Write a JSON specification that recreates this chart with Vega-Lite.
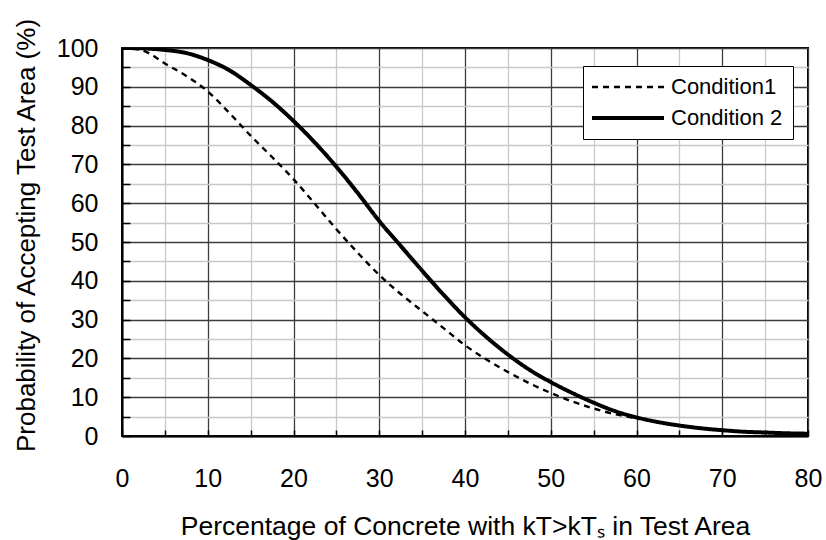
{
  "$schema": "https://vega.github.io/schema/vega-lite/v6.json",
  "width": 686,
  "height": 388,
  "autosize": "none",
  "padding": {"left": 122, "top": 48, "right": 18, "bottom": 104},
  "background": "white",
  "config": {
    "font": "Liberation Sans",
    "view": {"stroke": "black", "strokeWidth": 2},
    "axis": {
      "domainColor": "black",
      "domainWidth": 2,
      "tickColor": "black",
      "tickWidth": 1.5,
      "labelFontSize": 25,
      "labelColor": "black",
      "titleFontSize": 26,
      "titleFontWeight": "normal",
      "titleColor": "black",
      "grid": true,
      "gridWidth": 1.3,
      "gridOpacity": 1,
      "gridColor": {"condition": {"test": "datum.value % 10 === 0", "value": "#3c3c3c"}, "value": "#c8c8c8"}
    }
  },
  "data": {
    "values": [
      {"series": "Condition1", "x": 0, "y": 100},
      {"series": "Condition1", "x": 1, "y": 99.9},
      {"series": "Condition1", "x": 2, "y": 99.6},
      {"series": "Condition1", "x": 3, "y": 98.8},
      {"series": "Condition1", "x": 5, "y": 96},
      {"series": "Condition1", "x": 7.5, "y": 92.8},
      {"series": "Condition1", "x": 10, "y": 88.8},
      {"series": "Condition1", "x": 12.5, "y": 83.3},
      {"series": "Condition1", "x": 15, "y": 77.4},
      {"series": "Condition1", "x": 17.5, "y": 71.9},
      {"series": "Condition1", "x": 20, "y": 66.2},
      {"series": "Condition1", "x": 22.5, "y": 59.8},
      {"series": "Condition1", "x": 25, "y": 53.3},
      {"series": "Condition1", "x": 27.5, "y": 47.2},
      {"series": "Condition1", "x": 30, "y": 41.5},
      {"series": "Condition1", "x": 32.5, "y": 36.6},
      {"series": "Condition1", "x": 35, "y": 32.2},
      {"series": "Condition1", "x": 37.5, "y": 27.8},
      {"series": "Condition1", "x": 40, "y": 23.4},
      {"series": "Condition1", "x": 42.5, "y": 19.7},
      {"series": "Condition1", "x": 45, "y": 16.5},
      {"series": "Condition1", "x": 47.5, "y": 13.6},
      {"series": "Condition1", "x": 50, "y": 11.1},
      {"series": "Condition1", "x": 52.5, "y": 8.9},
      {"series": "Condition1", "x": 55, "y": 7.1},
      {"series": "Condition1", "x": 57.5, "y": 5.6},
      {"series": "Condition1", "x": 60, "y": 4.6},
      {"series": "Condition 2", "x": 0, "y": 100},
      {"series": "Condition 2", "x": 2.5, "y": 99.9},
      {"series": "Condition 2", "x": 5, "y": 99.5},
      {"series": "Condition 2", "x": 7.5, "y": 98.7},
      {"series": "Condition 2", "x": 10, "y": 96.9},
      {"series": "Condition 2", "x": 12.5, "y": 94.3},
      {"series": "Condition 2", "x": 15, "y": 90.5},
      {"series": "Condition 2", "x": 17.5, "y": 86.2},
      {"series": "Condition 2", "x": 20, "y": 81.2},
      {"series": "Condition 2", "x": 22.5, "y": 75.6},
      {"series": "Condition 2", "x": 25, "y": 69.4},
      {"series": "Condition 2", "x": 27.5, "y": 62.6},
      {"series": "Condition 2", "x": 30, "y": 55.4},
      {"series": "Condition 2", "x": 32.5, "y": 49},
      {"series": "Condition 2", "x": 35, "y": 42.6},
      {"series": "Condition 2", "x": 37.5, "y": 36.4},
      {"series": "Condition 2", "x": 40, "y": 30.6},
      {"series": "Condition 2", "x": 42.5, "y": 25.5},
      {"series": "Condition 2", "x": 45, "y": 21.0},
      {"series": "Condition 2", "x": 47.5, "y": 17.1},
      {"series": "Condition 2", "x": 50, "y": 13.9},
      {"series": "Condition 2", "x": 52.5, "y": 11.1},
      {"series": "Condition 2", "x": 55, "y": 8.6},
      {"series": "Condition 2", "x": 57.5, "y": 6.4},
      {"series": "Condition 2", "x": 60, "y": 4.8},
      {"series": "Condition 2", "x": 62.5, "y": 3.6},
      {"series": "Condition 2", "x": 65, "y": 2.7},
      {"series": "Condition 2", "x": 67.5, "y": 2.0},
      {"series": "Condition 2", "x": 70, "y": 1.5},
      {"series": "Condition 2", "x": 72.5, "y": 1.1},
      {"series": "Condition 2", "x": 75, "y": 0.9},
      {"series": "Condition 2", "x": 77.5, "y": 0.7},
      {"series": "Condition 2", "x": 80, "y": 0.6}
    ]
  },
  "encoding": {
    "x": {
      "field": "x",
      "type": "quantitative",
      "scale": {"domain": [0, 80], "nice": false},
      "axis": {
        "values": [0, 5, 10, 15, 20, 25, 30, 35, 40, 45, 50, 55, 60, 65, 70, 75, 80],
        "labelExpr": "datum.value % 10 === 0 ? datum.label : ''",
        "tickSize": -6,
        "labelPadding": 36,
        "labelFlush": false,
        "title": "Percentage of Concrete with kT>kTₛ in Test Area",
        "titleFontSize": 26.5,
        "titleBaseline": "alphabetic",
        "titleY": 98
      }
    },
    "y": {
      "field": "y",
      "type": "quantitative",
      "scale": {"domain": [0, 100], "nice": false},
      "axis": {
        "values": [0, 5, 10, 15, 20, 25, 30, 35, 40, 45, 50, 55, 60, 65, 70, 75, 80, 85, 90, 95, 100],
        "labelExpr": "datum.value % 10 === 0 ? datum.label : ''",
        "tickSize": -8,
        "labelPadding": 32,
        "labelFlush": false,
        "title": "Probability of Accepting Test Area (%)",
        "titleBaseline": "alphabetic",
        "titleX": -88,
        "titleY": 187
      }
    },
    "strokeDash": {
      "field": "series",
      "type": "nominal",
      "scale": {"domain": ["Condition1", "Condition 2"], "range": [[6, 5], [1, 0]]},
      "legend": {
        "orient": "none",
        "legendX": 461,
        "legendY": 18,
        "title": null,
        "symbolType": "M-1.333,0H6.667",
        "symbolSize": 324,
        "symbolStrokeColor": "black",
        "labelFontSize": 22,
        "labelColor": "black",
        "labelOffset": 56,
        "padding": 10,
        "rowPadding": 9,
        "strokeColor": "black",
        "fillColor": "white"
      }
    },
    "strokeWidth": {
      "field": "series",
      "type": "nominal",
      "scale": {"domain": ["Condition1", "Condition 2"], "range": [2.4, 4]},
      "legend": {
        "orient": "none",
        "legendX": 461,
        "legendY": 18,
        "title": null,
        "symbolType": "M-1.333,0H6.667",
        "symbolSize": 324,
        "symbolStrokeColor": "black",
        "labelFontSize": 22,
        "labelColor": "black",
        "labelOffset": 56,
        "padding": 10,
        "rowPadding": 9,
        "strokeColor": "black",
        "fillColor": "white"
      }
    }
  },
  "layer": [
    {
      "transform": [{"filter": "datum.series === 'Condition1'"}],
      "mark": {"type": "line", "color": "black", "strokeCap": "butt", "interpolate": "monotone", "clip": true}
    },
    {
      "transform": [{"filter": "datum.series === 'Condition 2'"}],
      "mark": {"type": "line", "color": "black", "strokeCap": "butt", "interpolate": "monotone", "clip": true}
    }
  ]
}
